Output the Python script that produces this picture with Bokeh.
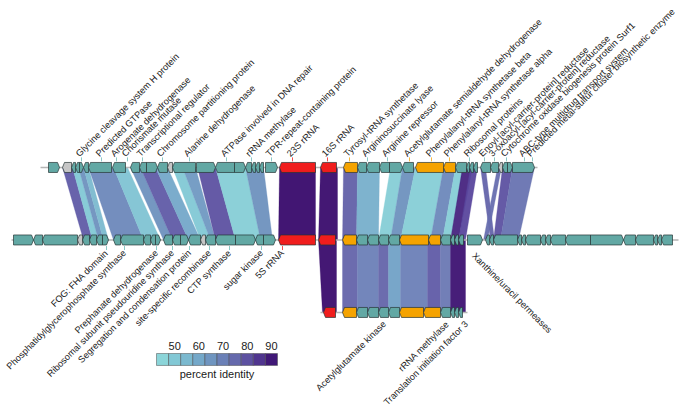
import numpy as np
from bokeh.plotting import figure
from bokeh.models import Range1d, ColumnDataSource
from bokeh.embed import file_html
from bokeh.resources import INLINE
from bokeh.core.properties import value

FONT = "Liberation Sans"

# ---------------- data (x in kb) ----------------
track_y = [0, 1, 2]
track_from = [4.0, 1.1, 32.0]
track_to = [53.7, 67.8, 46.7]

# genes of track 1 (top)
g1_start = [4.8, 6.2, 7.1, 7.5, 7.9, 8.3, 8.8, 11.2, 13.0, 13.9, 14.6, 15.7, 16.7, 17.2,
            19.6, 21.5, 23.4, 24.5, 25.1, 25.5, 25.9, 26.5, 27.9, 32.0, 34.3, 35.7, 36.6,
            37.9, 38.9, 40.2, 41.5, 44.3, 45.5, 46.6, 46.9, 47.3, 48.0, 49.0, 49.8, 50.2,
            50.7, 51.2]
g1_end = [5.9, 7.1, 7.5, 7.9, 8.3, 8.8, 11.1, 12.5, 13.9, 14.6, 15.7, 16.7, 17.2, 19.5,
          21.5, 23.4, 24.5, 25.1, 25.5, 25.9, 26.3, 27.7, 31.5, 33.6, 35.7, 36.6, 37.9,
          38.9, 40.2, 41.3, 44.3, 45.5, 46.6, 46.9, 47.3, 47.7, 49.0, 49.8, 50.2, 50.7,
          51.2, 53.4]
g1_strand = [1, -1, -1, -1, 1, -1, -1, -1, -1, -1, 1, -1, -1, -1,
             1, -1, 1, -1, -1, -1, -1, 1, -1, -1, -1, -1, -1,
             -1, 1, -1, -1, -1, -1, -1, -1, -1, -1, -1, -1, -1,
             1, 1]
g1_type = ["cds", "other", "cds", "cds", "cds", "cds", "cds", "cds", "cds", "cds", "cds", "cds", "other", "cds",
           "cds", "cds", "cds", "cds", "cds", "cds", "cds", "cds", "rRNA", "rRNA", "arg", "cds", "cds",
           "cds", "cds", "cds", "arg", "arg", "cds", "cds", "cds", "cds", "cds", "cds", "other", "cds",
           "cds", "cds"]

# genes of track 2 (middle)
g2_start = [1.3, 3.3, 4.2, 7.7, 8.2, 8.9, 9.6, 10.2, 11.3, 12.0, 14.3, 15.0, 15.5, 16.3,
            17.2, 18.0, 18.8, 20.0, 20.5, 21.5, 23.5, 25.5, 26.3, 27.8, 31.8, 34.2, 35.6,
            36.7, 37.8, 38.8, 39.9, 42.8, 44.0, 45.0, 45.4, 45.8, 46.7, 48.5, 48.9, 49.3,
            51.7, 52.1, 52.5, 54.0, 54.5, 55.0, 56.5, 59.0, 62.3, 63.5, 65.3, 65.7, 66.1]
g2_end = [3.3, 4.2, 7.7, 8.2, 8.9, 9.6, 10.2, 10.8, 12.0, 14.3, 15.0, 15.5, 16.0, 17.2,
          18.0, 18.8, 20.0, 20.5, 21.5, 23.5, 25.5, 26.3, 27.5, 31.5, 33.5, 35.6, 36.7,
          37.8, 38.8, 39.9, 42.8, 44.0, 45.0, 45.4, 45.8, 46.3, 48.2, 48.9, 49.3, 51.7,
          52.1, 52.5, 54.0, 54.5, 55.0, 56.5, 59.0, 62.3, 63.5, 65.3, 65.7, 66.1, 67.2]
g2_strand = [1, -1, -1, -1, -1, -1, -1, 1, -1, -1, -1, -1, 1, -1,
             -1, 1, -1, -1, -1, -1, 1, -1, 1, -1, -1, -1, -1,
             -1, -1, -1, -1, -1, -1, -1, -1, -1, 1, -1, -1, -1,
             -1, -1, -1, -1, -1, -1, -1, 1, -1, -1, -1, -1, -1]
g2_type = ["cds", "cds", "cds", "other", "cds", "cds", "cds", "cds", "cds", "cds", "cds", "cds", "cds", "cds",
           "cds", "cds", "cds", "other", "cds", "cds", "cds", "cds", "cds", "rRNA", "rRNA", "arg", "cds",
           "cds", "cds", "cds", "arg", "arg", "cds", "cds", "cds", "cds", "cds", "cds", "cds", "cds",
           "cds", "cds", "cds", "cds", "cds", "cds", "cds", "cds", "cds", "cds", "cds", "cds", "cds"]

# genes of track 3 (bottom)
g3_start = [32.3, 34.2, 35.6, 36.7, 37.8, 38.8, 39.9, 42.3, 44.0, 45.0, 45.4, 45.8]
g3_end = [33.5, 35.6, 36.7, 37.8, 38.8, 39.9, 42.3, 44.0, 45.0, 45.4, 45.8, 46.2]
g3_strand = [-1, -1, -1, -1, -1, -1, -1, -1, -1, -1, -1, -1]
g3_type = ["rRNA", "arg", "cds", "cds", "cds", "cds", "arg", "arg", "cds", "cds", "cds", "cds"]

# links track1 -> track2 (percent identity)
l12_a_start = [6.2, 7.2, 7.8, 8.3, 8.8, 11.3, 13.0, 14.0, 15.5, 17.2, 18.2, 19.7, 21.5, 24.5,
               27.9, 32.0, 34.3, 35.7, 39.0, 40.2, 41.5, 44.3, 45.5, 46.2, 47.0,
               48.0, 49.7, 50.2, 51.2]
l12_a_end = [7.2, 7.8, 8.3, 8.8, 11.3, 12.7, 14.0, 15.5, 16.7, 18.2, 19.5, 21.5, 24.5, 26.3,
             31.5, 33.7, 35.7, 37.9, 40.2, 41.5, 44.3, 45.5, 46.3, 47.2, 47.7,
             48.5, 50.1, 51.2, 53.4]
l12_b_start = [8.3, 9.2, 9.8, 10.3, 11.3, 14.3, 16.3, 17.2, 18.8, 20.0, 21.0, 21.5, 23.5, 26.0,
               27.8, 31.8, 34.2, 35.6, 37.8, 39.0, 40.0, 43.0, 44.2, 45.0, 45.8,
               49.0, 48.3, 49.3, 50.0]
l12_b_end = [9.2, 9.8, 10.3, 10.8, 14.3, 16.0, 17.2, 18.8, 20.0, 21.0, 21.5, 23.5, 26.0, 27.2,
             31.5, 33.7, 35.6, 37.8, 39.0, 40.0, 43.0, 44.2, 45.0, 45.8, 46.5,
             49.4, 48.7, 50.0, 51.8]
l12_pid = [78, 50, 66, 55, 68, 52, 66, 78, 60, 50, 64, 80, 48, 66,
           93, 92, 77, 58, 48, 66, 48, 68, 48, 88, 82,
           76, 74, 80, 73]

# links track2 -> track3
l23_a_start = [31.8, 34.2, 35.7, 37.8, 38.8, 40.0, 42.7, 44.0, 45.0]
l23_a_end = [33.6, 35.7, 37.8, 38.8, 40.0, 42.7, 44.0, 45.0, 46.5]
l23_b_start = [32.2, 34.2, 35.7, 37.8, 38.8, 40.0, 42.7, 44.0, 45.0]
l23_b_end = [33.6, 35.7, 37.8, 38.8, 40.0, 42.7, 44.0, 45.0, 46.5]
l23_pid = [92, 76, 70, 76, 62, 70, 78, 72, 91]

# gene labels
top_label_x = [8.1, 10.1, 11.6, 12.7, 14.2, 16.2, 18.9, 22.6, 25.1, 27.1, 29.2, 32.7,
               34.9, 36.7, 38.7, 40.9, 43.1, 44.9, 46.9, 48.4, 49.4, 50.6, 52.4, 53.2]
top_label_text = ["Glycine cleavage system H protein", "Predicted GTPase", "Arogenate dehydrogenase",
                  "Chorismate mutase", "Transcriptional regulator", "Chromosome partitioning protein",
                  "Alanine dehydrogenase", "ATPase involved in DNA repair", "rRNA methylase",
                  "TPR-repeat-containing protein", "23S rRNA", "16S rRNA", "Tyrosyl-tRNA synthetase",
                  "Argininosuccinate lyase", "Arginine repressor",
                  "Acetylglutamate semialdehyde dehydrogenase", "Phenylalanyl-tRNA synthetase beta",
                  "Phenylalanyl-tRNA synthetase alpha", "Ribosomal proteins",
                  "Enoyl-[acyl-carrier-protein] reductase", "3-oxoacyl-[acyl-carrier-protein] reductase",
                  "Cytochrome oxidase biogenesis protein Surf1", "ABC-type multidrug transport system",
                  "Predicted metal-sulfur cluster biosynthetic enzyme"]
top_label_type = ["cds"] * 10 + ["rRNA", "rRNA", "arg", "cds", "cds", "arg", "arg", "arg"] + ["cds"] * 6

mid_label_x = [10.6, 12.4, 15.6, 17.2, 18.9, 20.9, 22.9, 26.1, 28.2]
mid_label_text = ["FOG: FHA domain", "Phosphatidylglycerophosphate synthase", "Prephanate dehydrogenase",
                  "Ribosomal subunit pseudouridine synthase", "Segregation and condensation protein",
                  "site-specific recombinase", "CTP synthase", "sugar kinase", "5S rRNA"]
mid_label_type = ["cds"] * 8 + ["rRNA"]

mid_right_label_x = [47.3]
mid_right_label_text = ["Xanthine/uracil permeases"]

bot_label_x = [38.4, 44.7, 46.6]
bot_label_text = ["Acetylglutamate kinase", "rRNA methylase", "Translation initiation factor 3"]

# colour scale
pal_pid = [42.5, 52.0, 62.0, 72.0, 82.0, 92.5]
pal_col = ["#8fdcdb", "#7fc3d3", "#71a1c6", "#6a78b3", "#5a479d", "#38096b"]
legend_edges = [42.5, 47.5, 52.5, 57.5, 62.5, 67.5, 72.5, 77.5, 82.5, 87.5, 92.5]
legend_ticks = [50, 60, 70, 80, 90]

type_fill = {"cds": "#62a8a4", "rRNA": "#f01d1d", "arg": "#f5a300", "other": "#c6c6c6"}
type_tick = {"cds": "#8cc9c6", "rRNA": "#f05050", "arg": "#f5b840", "other": "#bbbbbb"}

# ---------------- helpers ----------------
def hex2rgb(h):
    h = h.lstrip("#")
    return np.array([int(h[i:i + 2], 16) for i in (0, 2, 4)], dtype=float)

def pid_color(v):
    v = min(max(v, pal_pid[0]), pal_pid[-1])
    for i in range(len(pal_pid) - 1):
        if pal_pid[i] <= v <= pal_pid[i + 1]:
            t = (v - pal_pid[i]) / (pal_pid[i + 1] - pal_pid[i])
            c = (1 - t) * hex2rgb(pal_col[i]) + t * hex2rgb(pal_col[i + 1])
            return "#%02x%02x%02x" % tuple(int(round(x)) for x in c)
    return pal_col[-1]

GH = 0.069   # gene half height (track units)
HEAD = 0.2   # arrow head length (kb)

def gene_polys(starts, ends, strands, types, y):
    xs, ys, fills = [], [], []
    for s, e, st, t in zip(starts, ends, strands, types):
        a = min(HEAD, (e - s) * 0.5)
        if st > 0:
            xs.append([s, e - a, e, e - a, s])
            ys.append([y - GH, y - GH, y, y + GH, y + GH])
        else:
            xs.append([s, s + a, e, e, s + a])
            ys.append([y, y - GH, y - GH, y + GH, y + GH])
        fills.append(type_fill[t])
    return dict(xs=xs, ys=ys, fill=fills)

def link_polys(a0, a1, b0, b1, pid, ya, yb):
    xs, ys, cols = [], [], []
    for s1, e1, s2, e2, v in zip(a0, a1, b0, b1, pid):
        xs.append([s1, e1, e2, s2])
        ys.append([ya, ya, yb, yb])
        cols.append(pid_color(v))
    return dict(xs=xs, ys=ys, fill=cols)

# ---------------- figure ----------------
W, H = 685, 411
p = figure(width=W, height=H, output_backend="svg", toolbar_location=None,
           x_range=Range1d(0.0, 68.5), y_range=Range1d(3.366, -2.303),
           x_axis_location=None, y_axis_location=None, min_border=0)
p.grid.visible = False
p.outline_line_color = None
p.background_fill_color = "white"

# links
L12 = link_polys(l12_a_start, l12_a_end, l12_b_start, l12_b_end, l12_pid, track_y[0], track_y[1])
L23 = link_polys(l23_a_start, l23_a_end, l23_b_start, l23_b_end, l23_pid, track_y[1], track_y[2])
for L in (L12, L23):
    p.patches("xs", "ys", source=ColumnDataSource(L), fill_color="fill", line_color="fill",
              line_width=0.3, fill_alpha=0.95)

# track lines
p.segment(x0=track_from, y0=track_y, x1=track_to, y1=track_y, line_color="#b5b5b5", line_width=1.6)

# genes
for (gs, ge, gst, gt, y) in ((g1_start, g1_end, g1_strand, g1_type, track_y[0]),
                             (g2_start, g2_end, g2_strand, g2_type, track_y[1]),
                             (g3_start, g3_end, g3_strand, g3_type, track_y[2])):
    G = gene_polys(gs, ge, gst, gt, y)
    p.patches("xs", "ys", source=ColumnDataSource(G), fill_color="fill",
              line_color="#263535", line_width=0.7)

# label ticks
p.segment(x0=top_label_x, x1=top_label_x,
          y0=[track_y[0] - GH - 0.015] * len(top_label_x), y1=[track_y[0] - GH - 0.07] * len(top_label_x),
          line_color=[type_tick[t] for t in top_label_type], line_width=1)
p.segment(x0=mid_label_x, x1=mid_label_x,
          y0=[track_y[1] + GH + 0.015] * len(mid_label_x), y1=[track_y[1] + GH + 0.07] * len(mid_label_x),
          line_color=[type_tick[t] for t in mid_label_type], line_width=1)

TXT = dict(text_font=value(FONT), text_font_size="9.2px", text_color="#1a1a1a")

p.text(x=[x - 0.4 for x in top_label_x], y=[track_y[0] - 0.17] * len(top_label_x),
       text=top_label_text, angle=np.pi / 4, text_align="left", text_baseline="middle", **TXT)
p.text(x=mid_label_x, y=[track_y[1] + 0.16] * len(mid_label_x), text=mid_label_text,
       angle=np.pi / 4, text_align="right", text_baseline="middle", **TXT)
p.text(x=mid_right_label_x, y=[track_y[1] + 0.2], text=mid_right_label_text,
       angle=-np.pi / 4, text_align="left", text_baseline="middle", **TXT)
p.text(x=bot_label_x, y=[track_y[2] + 0.14] * len(bot_label_x), text=bot_label_text,
       angle=np.pi / 4, text_align="right", text_baseline="middle", **TXT)

# colour legend
LX0, LSC = 15.6, 0.242      # legend origin (kb) and kb per percent
LY0, LY1 = 2.566, 2.731
lx0 = [LX0 + (legend_edges[i] - legend_edges[0]) * LSC for i in range(len(legend_edges) - 1)]
lx1 = [LX0 + (legend_edges[i + 1] - legend_edges[0]) * LSC for i in range(len(legend_edges) - 1)]
lcol = [pid_color((legend_edges[i] + legend_edges[i + 1]) / 2) for i in range(len(legend_edges) - 1)]
p.quad(left=lx0, right=lx1, top=[LY0] * len(lx0), bottom=[LY1] * len(lx0),
       fill_color=lcol, line_color="#4a4a4a", line_width=0.5)
p.text(x=[LX0 + (t - legend_edges[0]) * LSC for t in legend_ticks], y=[2.465] * len(legend_ticks),
       text=[str(t) for t in legend_ticks], text_align="center", text_baseline="middle",
       text_font=value(FONT), text_font_size="11px", text_color="#1a1a1a")
p.text(x=[LX0 + (legend_edges[-1] - legend_edges[0]) * LSC / 2], y=[2.85], text=["percent identity"],
       text_align="center", text_baseline="middle",
       text_font=value(FONT), text_font_size="11px", text_color="#1a1a1a")

open("out.html", "w").write(file_html(p, INLINE))
